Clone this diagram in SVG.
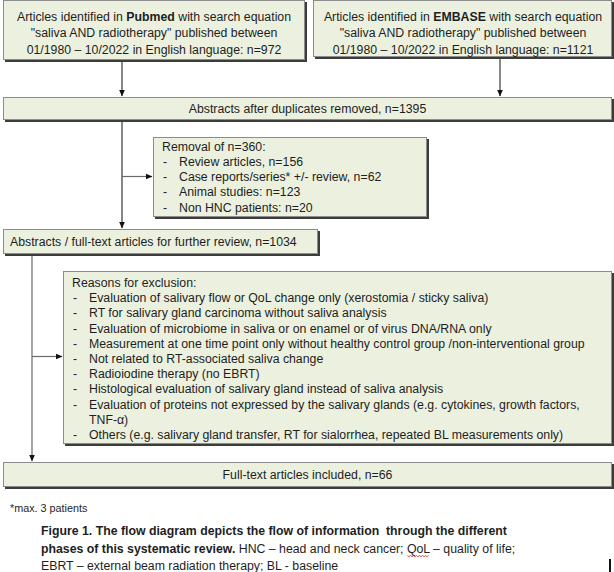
<svg xmlns="http://www.w3.org/2000/svg" width="614" height="572" viewBox="0 0 614 572">
<defs>
<marker id="ah" markerWidth="7" markerHeight="7" refX="6.5" refY="3.5" orient="auto" markerUnits="userSpaceOnUse">
<path d="M0,0.5 L7,3.5 L0,6.5 Z" fill="#111"/>
</marker>
</defs>
<style>
text{font-family:"Liberation Sans",Arial,sans-serif;font-size:12.3px;fill:#1e1e1e}
.c{text-anchor:middle}
.b{font-weight:bold}
.box{fill:#ebf1de;stroke:#8c8c8c;stroke-width:1}
.sh{fill:#3c3c3c}
.ln{fill:none;stroke:#111;stroke-width:1}
.lg{fill:none;stroke:#6a6a6a;stroke-width:1.2}
</style>
<rect width="614" height="572" fill="#ffffff"/>

<g id="connectors">
<line class="ln" x1="122" y1="61" x2="122" y2="96" marker-end="url(#ah)"/>
<line class="ln" x1="500" y1="58" x2="500" y2="96" marker-end="url(#ah)"/>
<line class="ln" x1="122" y1="121" x2="122" y2="228" marker-end="url(#ah)"/>
<line class="lg" x1="122" y1="176.5" x2="152" y2="176.5" marker-end="url(#ah)"/>
<line class="lg" x1="32" y1="255" x2="32" y2="461" marker-end="url(#ah)"/>
<line class="lg" x1="32" y1="356.5" x2="62" y2="356.5" marker-end="url(#ah)"/>
</g>

<g id="n-pubmed">
<rect class="sh" x="5" y="2" width="302" height="60"/>
<rect class="box" x="3.5" y="0.5" width="301" height="59"/>
<text class="c" x="154" y="20.5">Articles identified in <tspan class="b">Pubmed</tspan> with search equation</text>
<text class="c" x="154" y="37">"saliva AND radiotherapy" published between</text>
<text class="c" x="154" y="53.5">01/1980 – 10/2022 in English language: n=972</text>
</g>

<g id="n-embase">
<rect class="sh" x="315" y="2" width="299" height="57"/>
<rect class="box" x="313.5" y="0.5" width="298" height="56"/>
<text class="c" x="463" y="20.5">Articles identified in <tspan class="b">EMBASE</tspan> with search equation</text>
<text class="c" x="463" y="37">"saliva AND radiotherapy" published between</text>
<text class="c" x="463" y="53.5">01/1980 – 10/2022 in English language: n=1121</text>
</g>

<g id="n-dedup">
<rect class="sh" x="5" y="99" width="609" height="23"/>
<rect class="box" x="3.5" y="97.5" width="608" height="22"/>
<text class="c" x="307.5" y="112.5">Abstracts after duplicates removed, n=1395</text>
</g>

<g id="n-removal">
<rect class="sh" x="155" y="139" width="274" height="80"/>
<rect class="box" x="153.5" y="137.5" width="273" height="79"/>
<text x="162" y="150.5">Removal of n=360:</text>
<text x="163" y="165.8">-</text><text x="179" y="165.8">Review articles, n=156</text>
<text x="163" y="181.1">-</text><text x="179" y="181.1">Case reports/series* +/- review, n=62</text>
<text x="163" y="196.4">-</text><text x="179" y="196.4">Animal studies: n=123</text>
<text x="163" y="211.7">-</text><text x="179" y="211.7">Non HNC patients: n=20</text>
</g>

<g id="n-review">
<rect class="sh" x="5" y="231" width="315" height="25"/>
<rect class="box" x="3.5" y="229.5" width="314" height="24"/>
<text x="10" y="245.5">Abstracts / full-text articles for further review, n=1034</text>
</g>

<g id="n-exclusion">
<rect class="sh" x="65" y="273" width="549" height="173"/>
<rect class="box" x="63.5" y="271.5" width="548" height="172"/>
<text x="72" y="287">Reasons for exclusion:</text>
<text x="73" y="302.2">-</text><text x="89" y="302.2">Evaluation of salivary flow or QoL change only (xerostomia / sticky saliva)</text>
<text x="73" y="317.4">-</text><text x="89" y="317.4">RT for salivary gland carcinoma without saliva analysis</text>
<text x="73" y="332.6">-</text><text x="89" y="332.6">Evaluation of microbiome in saliva or on enamel or of virus DNA/RNA only</text>
<text x="73" y="347.8">-</text><text x="89" y="347.8">Measurement at one time point only without healthy control group /non-interventional group</text>
<text x="73" y="363">-</text><text x="89" y="363">Not related to RT-associated saliva change</text>
<text x="73" y="378.2">-</text><text x="89" y="378.2">Radioiodine therapy (no EBRT)</text>
<text x="73" y="393.4">-</text><text x="89" y="393.4">Histological evaluation of salivary gland instead of saliva analysis</text>
<text x="73" y="408.6">-</text><text x="89" y="408.6">Evaluation of proteins not expressed by the salivary glands (e.g. cytokines, growth factors,</text>
<text x="89" y="423.8">TNF-α)</text>
<text x="73" y="439">-</text><text x="89" y="439">Others (e.g. salivary gland transfer, RT for sialorrhea, repeated BL measurements only)</text>
</g>

<g id="n-included">
<rect class="sh" x="5" y="464" width="609" height="25"/>
<rect class="box" x="3.5" y="462.5" width="608" height="24"/>
<text class="c" x="307.5" y="478.5">Full-text articles included, n=66</text>
</g>

<g id="notes">
<text x="10" y="511.5" style="font-size:10.8px">*max. 3 patients</text>
<text x="41" y="534.5" class="b">Figure 1. The flow diagram depicts the flow of information&#160; through the different</text>
<text x="41" y="552.5"><tspan class="b">phases of this systematic review.</tspan> HNC – head and neck cancer; QoL – quality of life;</text>
<text x="41" y="569.5">EBRT – external beam radiation therapy; BL - baseline</text>
<path d="M407.5,555.5 l1.5,1.2 l1.5,-1.2 l1.5,1.2 l1.5,-1.2 l1.5,1.2 l1.5,-1.2 l1.5,1.2 l1.5,-1.2 l1.5,1.2 l1.5,-1.2 l1.5,1.2 l1.5,-1.2 l1.5,1.2 l1.5,-1.2" fill="none" stroke="#d02020" stroke-width="0.8"/>
<rect x="609" y="559" width="2" height="13" fill="#111"/>
</g>
</svg>
